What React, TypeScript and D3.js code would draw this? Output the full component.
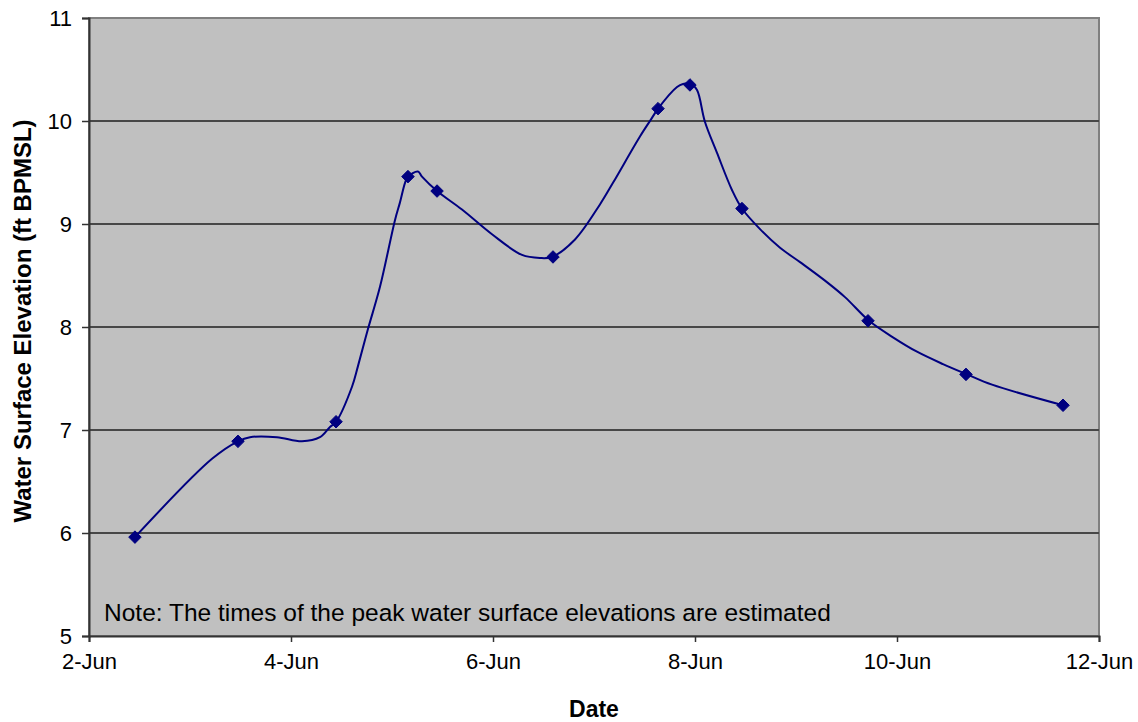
import React, { useRef, useEffect } from "react";
import * as d3 from "d3";

// day of June (decimal) and elevation
const lineDays = [
  2.455, 3.218, 3.475, 3.594, 3.861, 4.109, 4.287, 4.386, 4.446, 4.604, 4.663, 4.762,
  4.881, 5.03, 5.079, 5.129, 5.158, 5.257, 5.297, 5.446, 5.693, 5.99, 6.287, 6.465,
  6.584, 6.812, 7.059, 7.188, 7.455, 7.574, 7.634, 7.822, 7.881, 7.96, 8.02, 8.099,
  8.218, 8.366, 8.465, 8.644, 8.842, 9.04, 9.287, 9.485, 9.723, 9.96, 10.198, 10.455,
  10.693, 10.941, 11.644,
];
const lineValues = [
  5.96, 6.72, 6.89, 6.93, 6.93, 6.89, 6.93, 7.03, 7.08, 7.42, 7.62, 7.98,
  8.39, 9.04, 9.21, 9.4, 9.46, 9.51, 9.46, 9.32, 9.14, 8.9, 8.7, 8.67,
  8.68, 8.85, 9.19, 9.4, 9.85, 10.03, 10.12, 10.33, 10.36, 10.36, 10.3, 9.99,
  9.69, 9.33, 9.15, 8.95, 8.77, 8.63, 8.45, 8.29, 8.06, 7.9, 7.76, 7.64,
  7.54, 7.44, 7.24,
];

const markerDays = [2.455, 3.475, 4.446, 5.158, 5.446, 6.594, 7.634, 7.95, 8.465, 9.713, 10.683, 11.644];
const markerValues = [5.96, 6.89, 7.08, 9.46, 9.32, 8.68, 10.12, 10.35, 9.15, 8.06, 7.54, 7.24];

const xTicks = [2, 4, 6, 8, 10, 12];
const yTicks = [5, 6, 7, 8, 9, 10, 11];
const note = "Note: The times of the peak water surface elevations are estimated";

const WIDTH = 1138;
const HEIGHT = 722;

const App = () => {
  const node: any = useRef();

  useEffect(() => {
    document.body.style.margin = "0";
    const margin = { top: 18, right: 39, bottom: 86, left: 89 };
    const w = WIDTH - margin.left - margin.right;
    const h = HEIGHT - margin.top - margin.bottom;
    const font = "'Liberation Sans', Arial, sans-serif";

    const svg = d3.select(node.current);
    svg.selectAll("*").remove();
    svg.attr("width", WIDTH).attr("height", HEIGHT).style("display", "block");

    const x = d3.scaleLinear().domain([2, 12]).range([0, w]);
    const y = d3.scaleLinear().domain([5, 11]).range([h, 0]);

    const g = svg.append("g").attr("transform", `translate(${margin.left},${margin.top})`);

    // plot area
    g.append("rect")
      .attr("width", w)
      .attr("height", h)
      .attr("fill", "#c0c0c0")
      .attr("stroke", "#808080")
      .attr("stroke-width", 2);

    // gridlines
    g.append("g")
      .selectAll("line")
      .data(yTicks.slice(1, -1))
      .enter()
      .append("line")
      .attr("x1", 0)
      .attr("x2", w)
      .attr("y1", d => y(d))
      .attr("y2", d => y(d))
      .attr("stroke", "#474747")
      .attr("stroke-width", 2);

    // axes
    const xAxis = g
      .append("g")
      .attr("transform", `translate(0,${h})`)
      .call(
        d3
          .axisBottom(x)
          .tickValues(xTicks)
          .tickSize(6)
          .tickPadding(11)
          .tickFormat(d => `${d}-Jun`)
      );
    const yAxis = g.append("g").call(
      d3.axisLeft(y).tickValues(yTicks).tickSize(7).tickPadding(10).tickFormat(d => `${d}`)
    );
    [xAxis, yAxis].forEach(a => {
      a.select(".domain").attr("stroke", "#333").attr("stroke-width", 2);
      a.selectAll(".tick line").attr("stroke", "#333").attr("stroke-width", 1.5);
      a.selectAll(".tick text")
        .attr("font-family", font)
        .attr("font-size", 22)
        .attr("fill", "#000");
    });

    // note
    g.append("text")
      .attr("x", 15)
      .attr("y", h - 15)
      .attr("font-family", font)
      .attr("font-size", 24.5)
      .attr("fill", "#000")
      .text(note);

    // series line
    const line = d3
      .line<number>()
      .x((_, i) => x(lineDays[i]))
      .y(d => y(d))
      .curve(d3.curveCatmullRom.alpha(0.5));
    g.append("path")
      .attr("d", line(lineValues))
      .attr("fill", "none")
      .attr("stroke", "#000080")
      .attr("stroke-width", 2);

    // markers
    const diamond = d3.symbol().type(d3.symbolDiamond2).size(100);
    g.append("g")
      .selectAll("path")
      .data(markerValues)
      .enter()
      .append("path")
      .attr("d", diamond)
      .attr("transform", (d, i) => `translate(${x(markerDays[i])},${y(d)})`)
      .attr("fill", "#000080")
      .attr("stroke", "#000080")
      .attr("stroke-width", 1);

    // axis titles
    svg.append("text")
      .attr("x", margin.left + w / 2)
      .attr("y", 717)
      .attr("text-anchor", "middle")
      .attr("font-family", font)
      .attr("font-weight", "bold")
      .attr("font-size", 23)
      .text("Date");
    svg.append("text")
      .attr("transform", `translate(31,${margin.top + h / 2 - 6}) rotate(-90)`)
      .attr("text-anchor", "middle")
      .attr("font-family", font)
      .attr("font-weight", "bold")
      .attr("font-size", 24)
      .text("Water Surface Elevation (ft BPMSL)");
  }, []);

  return <svg ref={node}></svg>;
};

export default App;
